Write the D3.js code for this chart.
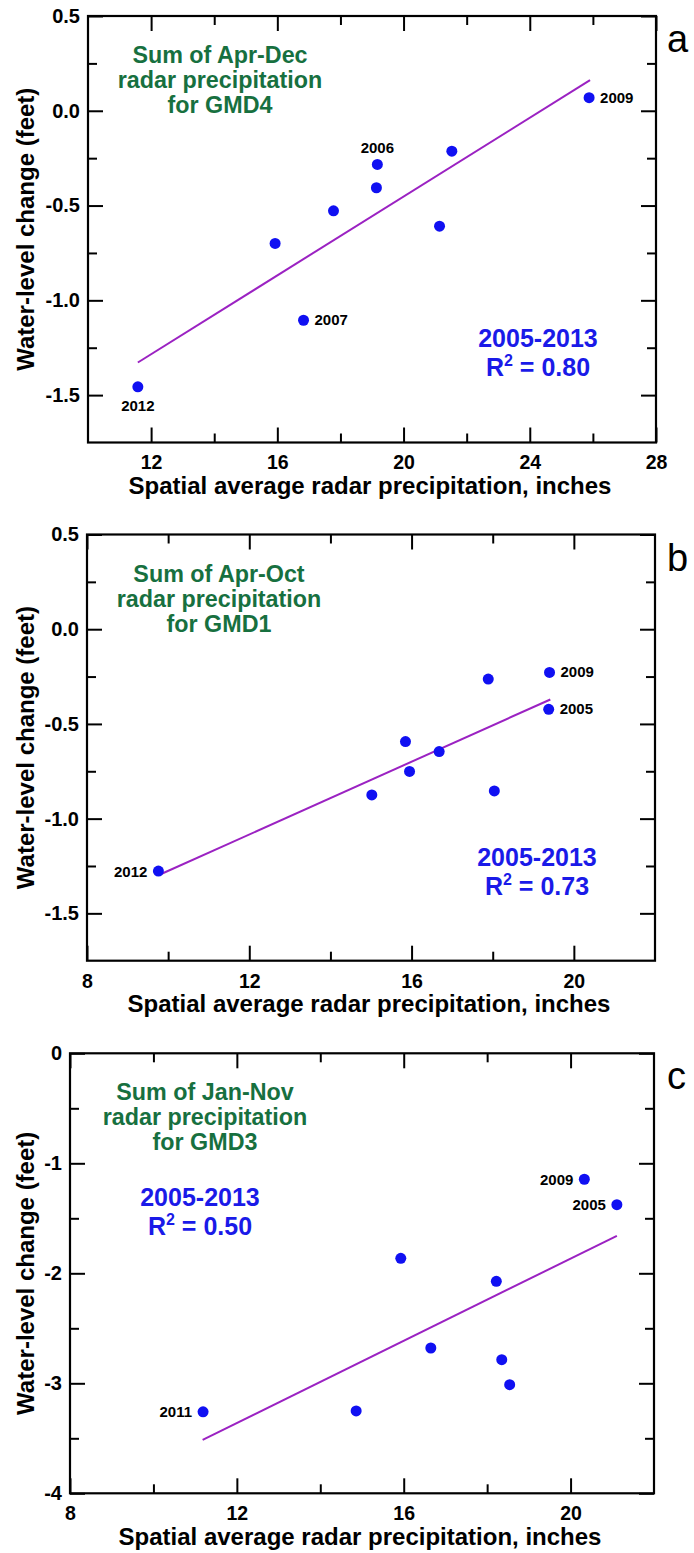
<!DOCTYPE html>
<html>
<head>
<meta charset="utf-8">
<script src="https://cdn.jsdelivr.net/npm/d3@7"></script>
<style>
  body { margin: 0; background: #fff; }
  svg { display: block; }
  text { font-family: "Liberation Sans", Arial, Helvetica, sans-serif; }
</style>
</head>
<body>
<svg id="fig" width="694" height="1553"></svg>
<script>
// ---------- data ----------
// Panel a: GMD4, Apr-Dec radar precipitation vs water-level change
const precipA = [11.58, 15.93, 16.83, 17.78, 19.14, 19.17, 21.14, 21.53, 25.88];
const changeA = [-1.456, -0.700, -1.105, -0.528, -0.406, -0.283, -0.609, -0.213, 0.069];
const yearsA  = ["2012", "", "2007", "", "", "2006", "", "", "2009"];
const fitA    = [[11.58, -1.328], [25.91, 0.162]];

// Panel b: GMD1, Apr-Oct
const precipB = [9.76, 15.02, 15.85, 15.95, 16.68, 17.89, 18.04, 19.40, 19.38];
const changeB = [-1.277, -0.875, -0.593, -0.751, -0.646, -0.263, -0.854, -0.228, -0.423];
const yearsB  = ["2012", "", "", "", "", "", "", "2009", "2005"];
const fitB    = [[9.80, -1.295], [19.42, -0.371]];

// Panel c: GMD3, Jan-Nov
const precipC = [11.19, 14.86, 15.93, 16.65, 18.22, 18.35, 18.54, 20.33, 21.11];
const changeC = [-3.259, -3.251, -1.864, -2.679, -2.073, -2.785, -3.013, -1.145, -1.376];
const yearsC  = ["2011", "", "", "", "", "", "", "2009", "2005"];
const fitC    = [[11.18, -3.515], [21.11, -1.659]];

const xTicksA = [12, 16, 20, 24, 28];
const xMinorA = [14, 18, 22, 26];
const xTicksBC = [8, 12, 16, 20];
const xMinorBC = [10, 14, 18];
const yTicksAB = [0.5, 0.0, -0.5, -1.0, -1.5];
const yMinorAB = [0.25, -0.25, -0.75, -1.25];
const yTicksC = [0, -1, -2, -3, -4];
const yMinorC = [-0.5, -1.5, -2.5, -3.5];

const titlesA = ["Sum of Apr-Dec", "radar precipitation", "for GMD4"];
const titlesB = ["Sum of Apr-Oct", "radar precipitation", "for GMD1"];
const titlesC = ["Sum of Jan-Nov", "radar precipitation", "for GMD3"];
const periodLabel = "2005-2013";
const r2A = "0.80", r2B = "0.73", r2C = "0.50";

const xTitle = "Spatial average radar precipitation, inches";
const yTitle = "Water-level change (feet)";

// ---------- layout & style ----------
const BLUE = "#1010f2";
const TXT_BLUE = "#1a1ae8";
const GREEN = "#17703f";
const FIT = "#9b22c2";

const panels = [
  {
    letter: "a", x: precipA, y: changeA, years: yearsA, fit: fitA, titles: titlesA, r2: r2A,
    box: { left: 88, right: 656, top: 16, bottom: 442.5 },
    xDomain: [10, 28], yDomain: [-1.75, 0.5],
    xTicks: xTicksA, xMinor: xMinorA, yTicks: yTicksAB, yMinor: yMinorAB,
    yFmt: v => v.toFixed(1),
    titleX: 220, statsX: 538, statsBase: 331,
    place: { "2012": "below", "2007": "right", "2006": "above", "2009": "right" }
  },
  {
    letter: "b", x: precipB, y: changeB, years: yearsB, fit: fitB, titles: titlesB, r2: r2B,
    box: { left: 87, right: 655, top: 534.5, bottom: 960.7 },
    xDomain: [8, 22], yDomain: [-1.75, 0.5],
    xTicks: xTicksBC, xMinor: xMinorBC, yTicks: yTicksAB, yMinor: yMinorAB,
    yFmt: v => v.toFixed(1),
    titleX: 219, statsX: 537, statsBase: 331,
    place: { "2012": "left", "2009": "right", "2005": "right" }
  },
  {
    letter: "c", x: precipC, y: changeC, years: yearsC, fit: fitC, titles: titlesC, r2: r2C,
    box: { left: 70, right: 654, top: 1053.3, bottom: 1493.3 },
    xDomain: [8, 22], yDomain: [-4, 0],
    xTicks: xTicksBC, xMinor: xMinorBC, yTicks: yTicksC, yMinor: yMinorC,
    yFmt: v => String(v),
    titleX: 205, statsX: 200, statsBase: 153,
    place: { "2011": "left", "2009": "left", "2005": "left" }
  }
];

const svg = d3.select("#fig");

panels.forEach(p => {
  const b = p.box;
  const x = d3.scaleLinear().domain(p.xDomain).range([b.left, b.right]);
  const y = d3.scaleLinear().domain(p.yDomain).range([b.bottom, b.top]);
  const g = svg.append("g");

  const MAJ = 15, MIN = 9;
  function styleAxis(sel) {
    sel.select(".domain").remove();
    sel.selectAll(".tick line").attr("stroke", "#000").attr("stroke-width", 2);
    sel.selectAll("text")
      .attr("font-family", "'Liberation Sans', Arial, sans-serif")
      .attr("font-weight", "bold")
      .attr("fill", "#000");
  }

  // bottom axis with labels
  g.append("g").attr("transform", `translate(0,${b.bottom})`)
    .call(d3.axisBottom(x).tickValues(p.xTicks).tickSizeInner(-MAJ).tickSizeOuter(0)
      .tickPadding(13).tickFormat(d => String(d)))
    .call(styleAxis)
    .selectAll("text").attr("font-size", 19.5);
  g.append("g").attr("transform", `translate(0,${b.bottom})`)
    .call(d3.axisBottom(x).tickValues(p.xMinor).tickSizeInner(-MIN).tickSizeOuter(0).tickFormat(""))
    .call(styleAxis);
  // top axis ticks
  g.append("g").attr("transform", `translate(0,${b.top})`)
    .call(d3.axisTop(x).tickValues(p.xTicks).tickSizeInner(-MAJ).tickSizeOuter(0).tickFormat(""))
    .call(styleAxis);
  g.append("g").attr("transform", `translate(0,${b.top})`)
    .call(d3.axisTop(x).tickValues(p.xMinor).tickSizeInner(-MIN).tickSizeOuter(0).tickFormat(""))
    .call(styleAxis);
  // left axis with labels
  g.append("g").attr("transform", `translate(${b.left},0)`)
    .call(d3.axisLeft(y).tickValues(p.yTicks).tickSizeInner(-MAJ).tickSizeOuter(0)
      .tickPadding(8).tickFormat(p.yFmt))
    .call(styleAxis)
    .selectAll("text").attr("font-size", 20);
  g.append("g").attr("transform", `translate(${b.left},0)`)
    .call(d3.axisLeft(y).tickValues(p.yMinor).tickSizeInner(-MIN).tickSizeOuter(0).tickFormat(""))
    .call(styleAxis);
  // right axis ticks
  g.append("g").attr("transform", `translate(${b.right},0)`)
    .call(d3.axisRight(y).tickValues(p.yTicks).tickSizeInner(-MAJ).tickSizeOuter(0).tickFormat(""))
    .call(styleAxis);
  g.append("g").attr("transform", `translate(${b.right},0)`)
    .call(d3.axisRight(y).tickValues(p.yMinor).tickSizeInner(-MIN).tickSizeOuter(0).tickFormat(""))
    .call(styleAxis);

  // frame
  g.append("rect")
    .attr("x", b.left).attr("y", b.top)
    .attr("width", b.right - b.left).attr("height", b.bottom - b.top)
    .attr("fill", "none").attr("stroke", "#000").attr("stroke-width", 2.2);

  // regression line
  g.append("path")
    .datum(p.fit)
    .attr("d", d3.line().x(d => x(d[0])).y(d => y(d[1])))
    .attr("fill", "none").attr("stroke", FIT).attr("stroke-width", 2);

  // points
  const pts = p.x.map((v, i) => ({ px: v, wl: p.y[i], year: p.years[i] }));
  g.selectAll("circle.pt").data(pts).enter().append("circle")
    .attr("class", "pt")
    .attr("cx", d => x(d.px)).attr("cy", d => y(d.wl))
    .attr("r", 5.5).attr("fill", BLUE);

  // year labels
  g.selectAll("text.yr").data(pts.filter(d => d.year)).enter().append("text")
    .attr("class", "yr")
    .attr("font-size", 15).attr("font-weight", "bold").attr("fill", "#000")
    .each(function (d) {
      const side = p.place[d.year];
      const cx = x(d.px), cy = y(d.wl);
      const t = d3.select(this).text(d.year);
      if (side === "right") t.attr("x", cx + 11).attr("y", cy + 5).attr("text-anchor", "start");
      else if (side === "left") t.attr("x", cx - 11).attr("y", cy + 5.5).attr("text-anchor", "end");
      else if (side === "above") t.attr("x", cx).attr("y", cy - 11).attr("text-anchor", "middle");
      else t.attr("x", cx).attr("y", cy + 24).attr("text-anchor", "middle");
    });

  // green caption
  p.titles.forEach((line, i) => {
    g.append("text")
      .attr("x", p.titleX).attr("y", b.top + 47 + i * 25)
      .attr("text-anchor", "middle")
      .attr("font-size", 23.3).attr("font-weight", "bold").attr("fill", GREEN)
      .text(line);
  });

  // period and R²
  g.append("text")
    .attr("x", p.statsX).attr("y", b.top + p.statsBase)
    .attr("text-anchor", "middle")
    .attr("font-size", 25).attr("font-weight", "bold").attr("fill", TXT_BLUE)
    .text(periodLabel);
  const r2 = g.append("text")
    .attr("x", p.statsX).attr("y", b.top + p.statsBase + 29)
    .attr("text-anchor", "middle")
    .attr("font-size", 25).attr("font-weight", "bold").attr("fill", TXT_BLUE);
  r2.append("tspan").text("R");
  r2.append("tspan").attr("dy", -10).attr("font-size", 16).text("2");
  r2.append("tspan").attr("dy", 10).text(" = " + p.r2);

  // panel letter
  g.append("text")
    .attr("x", 667).attr("y", b.top + 36)
    .attr("font-size", 38).attr("fill", "#000")
    .text(p.letter);

  // axis titles
  g.append("text")
    .attr("x", (b.left + b.right) / 2 - 2).attr("y", b.bottom + 51.5)
    .attr("text-anchor", "middle")
    .attr("font-size", 24).attr("font-weight", "bold").attr("fill", "#000")
    .text(xTitle);
  g.append("text")
    .attr("transform", `translate(25,${(b.top + b.bottom) / 2}) rotate(-90)`)
    .attr("text-anchor", "middle").attr("dominant-baseline", "central")
    .attr("font-size", 24).attr("font-weight", "bold").attr("fill", "#000")
    .text(yTitle);
});
</script>
</body>
</html>
